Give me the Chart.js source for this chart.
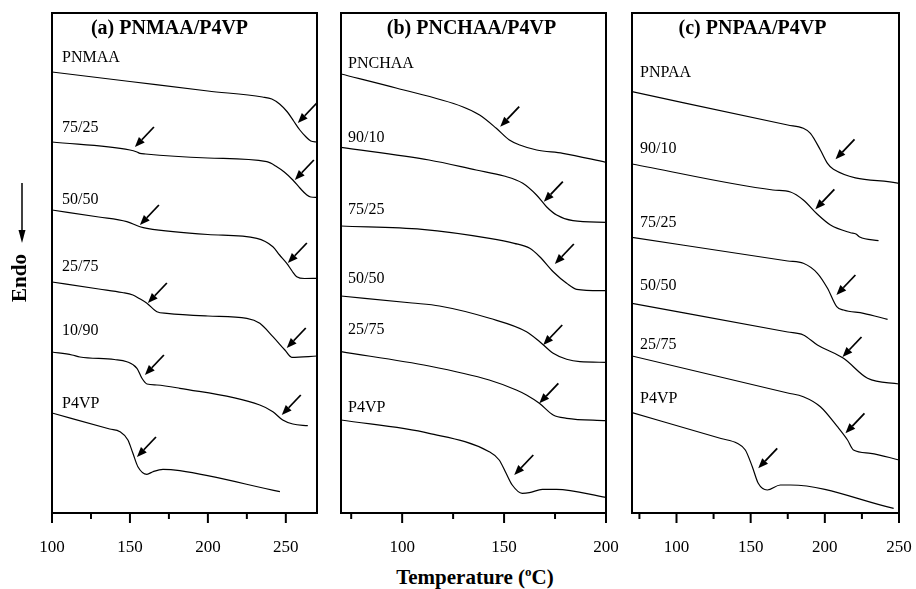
<!DOCTYPE html>
<html>
<head>
<meta charset="utf-8">
<title>DSC thermograms</title>
<script src="https://cdn.jsdelivr.net/npm/chart.js@4.4.1/dist/chart.umd.min.js"></script>
<style>
    body { margin: 0; background: #fff; }
    #wrap { position: relative; width: 916px; height: 589px; overflow: hidden; }
    #wrap canvas { position: absolute; top: 0; }
    #xtitle {
        position: absolute; left: 375px; width: 200px; top: 565px;
        text-align: center; line-height: 24px;
        font: bold 21px 'Liberation Serif', 'Times New Roman', serif;
    }
    #xtitle sup { font-size: 13px; vertical-align: 8px; line-height: 0; }
</style>
</head>
<body>
<div id="wrap">
    <canvas id="chartA"></canvas>
    <canvas id="chartB"></canvas>
    <canvas id="chartC"></canvas>
    <div id="xtitle">Temperature (<sup>o</sup>C)</div>
</div>
<script>
// heat flow in arbitrary units (curves are stacked), temperature in degC

// (a) PNMAA/P4VP
const a_names = ['PNMAA', '75/25', '50/50', '25/75', '10/90', 'P4VP'];
const a_PNMAA_T = [100, 150, 200, 235, 241, 246, 251, 255, 259, 263, 266, 270];
const a_PNMAA_H = [441, 431.5, 422, 416, 414, 409, 401, 392, 383, 376, 372, 371];
const a_7525_T = [100, 150, 154.5, 156.4, 160, 200, 237.8, 244.2, 249, 254.5, 259, 263.5, 266, 270];
const a_7525_H = [371, 363, 361, 359.7, 359, 355, 351.3, 346.3, 341, 333, 325, 318, 316, 315.7];
const a_5050_T = [100, 130, 148, 156.4, 160.9, 200, 231.4, 241.7, 246, 250.6, 254, 257, 262, 270];
const a_5050_H = [303, 296, 291.3, 286.3, 284.7, 278.5, 274.7, 266.3, 258, 249.7, 242, 236.3, 234.5, 234.7];
const a_2575_T = [100, 130, 145, 151.9, 156, 160.9, 167.3, 173.7, 200, 225, 233.3, 241.7, 249.4, 253.8, 270];
const a_2575_H = [231, 224, 220.5, 218, 214.5, 209.7, 201.3, 199.7, 197, 194.7, 189.7, 176.3, 163, 155.7, 157];
const a_1090_T = [100, 112.8, 117.9, 140, 148, 154.5, 157.7, 160.9, 167.3, 182, 233.3, 241.7, 248, 254.5, 264.1];
const a_1090_H = [161, 158, 156, 153.5, 151.3, 144.7, 134.7, 129, 128, 124.7, 108, 101.3, 93, 89, 87.3];
const a_P4VP_T = [100, 137, 143.6, 148.7, 151.9, 155.1, 160.9, 164.7, 171.2, 182, 246.2];
const a_P4VP_H = [100, 84, 81.3, 73, 59.7, 46.3, 38.7, 41.3, 43.7, 42.3, 21.3];
const a_arrowT = [257.7, 153.2, 255.8, 156.4, 251.3, 161.5, 250.6, 159.6, 247.4, 154.5];
const a_arrowH = [390, 366, 333, 288, 250, 210, 165, 138, 98, 56];
const a_ticks = [100, 125, 150, 175, 200, 225, 250];
const a_tickLabels = [100, 150, 200, 250];

// (b) PNCHAA/P4VP
const b_names = ['PNCHAA', '90/10', '75/25', '50/50', '25/75', 'P4VP'];
const b_PNCHAA_T = [70, 97, 129.6, 138, 146.2, 152.6, 157.7, 166, 178.8, 200];
const b_PNCHAA_H = [439, 425, 406.3, 398, 384.7, 373, 368, 363, 359.7, 350.7];
const b_9010_T = [70, 113.2, 136.3, 150, 159.2, 165.9, 170.8, 175.8, 183.8, 200];
const b_9010_H = [365.7, 353, 343, 337, 329.7, 318, 306.3, 298, 292.3, 290.7];
const b_7525_T = [70, 109.8, 142.9, 155, 162.6, 167.5, 174.1, 180.7, 185.6, 200];
const b_7525_H = [287, 283.7, 274.7, 269.7, 264.7, 256.3, 241.3, 229.7, 223.7, 222.3];
const b_5050_T = [70, 104.9, 118.3, 142.9, 161, 167.5, 174.1, 180.7, 187.2, 200];
const b_5050_H = [217, 210, 207, 194.7, 181.3, 171.3, 159.7, 153.7, 151.3, 150.7];
const b_2575_T = [70, 113.2, 142.7, 156, 161, 167.3, 174.1, 180.7, 200];
const b_2575_H = [161.3, 147, 133, 123, 118, 109.7, 98, 94.7, 92.3];
const b_P4VP_T = [70, 113.2, 142.7, 147.6, 151, 154, 158.9, 162.4, 168.8, 175.7, 200];
const b_P4VP_H = [93, 79.7, 61.3, 53, 39.7, 28, 19.7, 20.3, 23.7, 23.7, 15.7];
const b_arrowT = [148.1, 169.5, 174.9, 169.2, 167.3, 155];
const b_arrowH = [386.3, 311.3, 249, 168, 109.7, 38];
const b_ticks = [75, 100, 125, 150, 175, 200];
const b_tickLabels = [100, 150, 200];

// (c) PNPAA/P4VP
const c_names = ['PNPAA', '90/10', '75/25', '50/50', '25/75', 'P4VP'];
const c_PNPAA_T = [70, 175, 185.5, 190.3, 197, 201.8, 205.8, 250];
const c_PNPAA_H = [421.3, 388, 384.7, 379.7, 363, 349.7, 343.7, 329.7];
const c_9010_T = [70, 165, 176.8, 185.5, 195, 203.8, 217.3, 221, 223.5, 236.2];
const c_9010_H = [349, 323, 321, 313, 298.7, 288, 280.3, 279, 276, 272.3];
const c_7525_T = [70, 175, 185.5, 195, 201.8, 208, 212.6, 226.1, 242.3];
const c_7525_H = [275.7, 252, 249.7, 239.7, 224.7, 206.3, 203, 199.7, 193.7];
const c_5050_T = [70, 175, 185.5, 195, 212.6, 228.8, 250];
const c_5050_H = [209.7, 181, 178, 168, 154.7, 134.7, 129];
const c_2575_T = [70, 175, 185.5, 197, 208.5, 215.3, 219.3, 230.8, 250];
const c_2575_H = [157, 120, 116.3, 106.3, 86.3, 73, 63, 59.7, 53];
const c_P4VP_T = [70, 130, 140.9, 146.4, 151.1, 155.1, 161.2, 170, 176.8, 246.4];
const c_P4VP_H = [100.3, 74.5, 69.7, 63, 46.3, 29.7, 23, 28, 28, 4.7];
const c_arrowT = [207.2, 193.6, 207.8, 211.9, 213.9, 155.1];
const c_arrowH = [353.7, 303.7, 218, 156, 79.7, 44.7];
const c_ticks = [75, 100, 125, 150, 175, 200, 225, 250];
const c_tickLabels = [100, 150, 200, 250];

const SERIF = "'Liberation Serif', 'Times New Roman', serif";

// layout of the three panels
const panels = [
    {
        id: 'chartA', left: 0, width: 330, pad: { left: 52, right: 13 },
        min: 100, max: 270, ticks: a_ticks, tickLabels: a_tickLabels,
        title: '(a) PNMAA/P4VP', titleDx: -15, names: a_names, labelDx: 10,
        gaps: [14, 14, 10, 15, 21, 9],
        series: [[a_PNMAA_T, a_PNMAA_H], [a_7525_T, a_7525_H], [a_5050_T, a_5050_H],
                 [a_2575_T, a_2575_H], [a_1090_T, a_1090_H], [a_P4VP_T, a_P4VP_H]],
        arrowT: a_arrowT, arrowH: a_arrowH, endo: true
    },
    {
        id: 'chartB', left: 330, width: 290, pad: { left: 11, right: 14 },
        min: 70, max: 200, ticks: b_ticks, tickLabels: b_tickLabels,
        title: '(b) PNCHAA/P4VP', titleDx: -2, names: b_names, labelDx: 7,
        gaps: [10, 10, 16, 17, 22, 12],
        series: [[b_PNCHAA_T, b_PNCHAA_H], [b_9010_T, b_9010_H], [b_7525_T, b_7525_H],
                 [b_5050_T, b_5050_H], [b_2575_T, b_2575_H], [b_P4VP_T, b_P4VP_H]],
        arrowT: b_arrowT, arrowH: b_arrowH
    },
    {
        id: 'chartC', left: 620, width: 296, pad: { left: 12, right: 17 },
        min: 70, max: 250, ticks: c_ticks, tickLabels: c_tickLabels,
        title: '(c) PNPAA/P4VP', titleDx: -13, names: c_names, labelDx: 8,
        gaps: [19, 15, 15, 18, 11, 14],
        series: [[c_PNPAA_T, c_PNPAA_H], [c_9010_T, c_9010_H], [c_7525_T, c_7525_H],
                 [c_5050_T, c_5050_H], [c_2575_T, c_2575_H], [c_P4VP_T, c_P4VP_H]],
        arrowT: c_arrowT, arrowH: c_arrowH
    }
];

// small arrow pointing down-left at (tx, ty)
function drawArrow(ctx, tx, ty) {
    const dx = 19, dy = -20;
    const len = Math.hypot(dx, dy), ux = dx / len, uy = dy / len;
    const head = 10, hw = 4;
    const bx = tx + ux * head, by = ty + uy * head;
    ctx.lineWidth = 1.8;
    ctx.beginPath();
    ctx.moveTo(tx + dx, ty + dy);
    ctx.lineTo(bx, by);
    ctx.stroke();
    ctx.beginPath();
    ctx.moveTo(tx, ty);
    ctx.lineTo(bx - uy * hw, by + ux * hw);
    ctx.lineTo(bx + uy * hw, by - ux * hw);
    ctx.closePath();
    ctx.fill();
}

// frame, tick marks, arrows, curve names and panel title
function makeDecor(p) {
    return {
        id: 'decor',
        afterDraw(chart) {
            const { ctx, chartArea: a } = chart;
            const x = chart.scales.x, y = chart.scales.y;
            ctx.save();
            ctx.strokeStyle = '#000';
            ctx.fillStyle = '#000';

            ctx.lineWidth = 2;
            ctx.strokeRect(a.left, a.top, a.right - a.left, a.bottom - a.top);

            p.ticks.forEach(v => {
                const px = x.getPixelForValue(v);
                const len = p.tickLabels.includes(v) ? 10 : 6;
                ctx.beginPath();
                ctx.moveTo(px, a.bottom);
                ctx.lineTo(px, a.bottom + len);
                ctx.stroke();
            });

            p.arrowT.forEach((t, i) => {
                drawArrow(ctx, x.getPixelForValue(t), y.getPixelForValue(p.arrowH[i]));
            });

            ctx.font = '16px ' + SERIF;
            ctx.textAlign = 'left';
            ctx.textBaseline = 'middle';
            p.names.forEach((name, i) => {
                const startY = y.getPixelForValue(p.series[i][1][0]);
                ctx.fillText(name, a.left + p.labelDx, startY - p.gaps[i]);
            });

            ctx.font = 'bold 20px ' + SERIF;
            ctx.textAlign = 'center';
            ctx.fillText(p.title, (a.left + a.right) / 2 + p.titleDx, a.top + 16);

            if (p.endo) {
                ctx.lineWidth = 1.5;
                ctx.beginPath();
                ctx.moveTo(22, 183);
                ctx.lineTo(22, 232);
                ctx.stroke();
                ctx.beginPath();
                ctx.moveTo(22, 243);
                ctx.lineTo(18.5, 230);
                ctx.lineTo(25.5, 230);
                ctx.closePath();
                ctx.fill();
                ctx.translate(21, 278);
                ctx.rotate(-Math.PI / 2);
                ctx.font = 'bold 21px ' + SERIF;
                ctx.fillText('Endo', 0, 0);
            }
            ctx.restore();
        }
    };
}

function buildPanel(p) {
    const canvas = document.getElementById(p.id);
    canvas.style.left = p.left + 'px';
    canvas.width = p.width;
    canvas.height = 553;

    const datasets = p.series.map(([t, h], i) => ({
        label: p.names[i],
        data: t.map((v, k) => ({ x: v, y: h[k] })),
        borderColor: '#000',
        borderWidth: 1.2,
        pointRadius: 0,
        fill: false,
        cubicInterpolationMode: 'monotone'
    }));

    return new Chart(canvas.getContext('2d'), {
        type: 'line',
        data: { datasets: datasets },
        options: {
            responsive: false,
            animation: false,
            devicePixelRatio: 1,
            layout: { padding: { left: p.pad.left, right: p.pad.right, top: 13, bottom: 0 } },
            plugins: { legend: { display: false }, tooltip: { enabled: false } },
            scales: {
                x: {
                    type: 'linear',
                    min: p.min,
                    max: p.max,
                    grid: { display: false },
                    border: { display: false },
                    afterBuildTicks: s => { s.ticks = p.tickLabels.map(v => ({ value: v })); },
                    // fixed axis height, and no extra room for the edge labels
                    afterFit: s => { s.height = 40; s.paddingLeft = 0; s.paddingRight = 0; },
                    ticks: {
                        color: '#000',
                        padding: 16,
                        maxRotation: 0,
                        autoSkip: false,
                        font: { family: SERIF, size: 17 }
                    }
                },
                y: { type: 'linear', display: false, min: 0, max: 500 }
            }
        },
        plugins: [makeDecor(p)]
    });
}

panels.forEach(buildPanel);
</script>
</body>
</html>
